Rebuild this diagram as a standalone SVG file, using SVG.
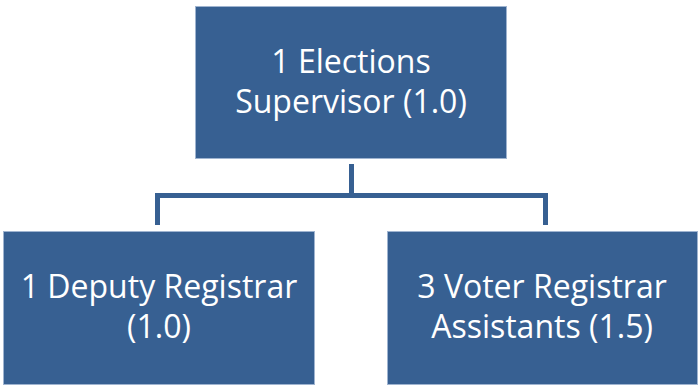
<svg xmlns="http://www.w3.org/2000/svg" width="698" height="386" viewBox="0 0 698 386">
  <style>
    .box { fill: #376092; stroke: #9fb4d0; stroke-width: 1; }
    .label { fill: #ffffff; font-family: "Open Sans", "Liberation Sans", sans-serif; font-size: 32px; text-anchor: middle; }
    .link { fill: none; stroke: #376092; stroke-width: 5; }
  </style>
  <rect width="698" height="386" fill="#ffffff"/>
  <g id="connectors">
    <path class="link" d="M351.5 164 V195.5 M157.5 225 V195.5 H545.5 V225"/>
  </g>
  <g id="supervisor">
    <rect class="box" x="195.5" y="6.5" width="311" height="152"/>
    <text class="label" x="351" y="73">1 Elections</text>
    <text class="label" x="351" y="113">Supervisor (1.0)</text>
  </g>
  <g id="deputy">
    <rect class="box" x="3.5" y="231.5" width="311" height="153"/>
    <text class="label" x="159" y="298">1 Deputy Registrar</text>
    <text class="label" x="159" y="338">(1.0)</text>
  </g>
  <g id="assistants">
    <rect class="box" x="387.5" y="231.5" width="310" height="153"/>
    <text class="label" x="542" y="298">3 Voter Registrar</text>
    <text class="label" x="542" y="338">Assistants (1.5)</text>
  </g>
</svg>
